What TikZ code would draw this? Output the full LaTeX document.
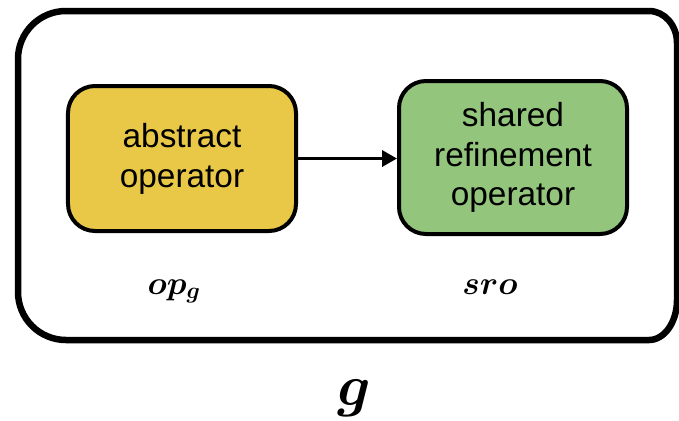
\RequirePackage{fix-cm}
\documentclass[tikz,border=0pt]{standalone}
\usepackage{fontspec}
\usepackage{amsmath,bm}
\newfontfamily\boxfont{Liberation Sans}
\usetikzlibrary{arrows.meta}
\definecolor{absyellow}{RGB}{233,200,72}
\definecolor{srogreen}{RGB}{147,197,125}
\tikzset{
  opbox/.style={draw=black, line width=4bp, rounded corners=27bp, align=center,
    font=\boxfont\fontsize{33.5}{40}\selectfont, inner sep=0pt},
  lbl/.style={anchor=base, inner sep=0pt, font=\fontsize{33}{36}\selectfont},
  conn/.style={line width=3.5bp, -{Triangle[length=15bp,width=16bp]}}
}
\begin{document}
\begin{tikzpicture}[x=1bp,y=-1bp]
\useasboundingbox (0,0) rectangle (679,420);
% outer group frame
\draw[line width=6.5bp]
  (66,11) -- (649,11)
  arc[start angle=-90,end angle=0,x radius=28,y radius=32]
  -- (677,300)
  arc[start angle=0,end angle=90,x radius=28,y radius=40]
  -- (66,340)
  arc[start angle=90,end angle=180,radius=48]
  -- (18,59)
  arc[start angle=180,end angle=270,radius=48] -- cycle;
\node[opbox, fill=absyellow, minimum width=228bp, minimum height=145bp] (abs) at (182,158.5) {abstract\\operator};
\node[opbox, fill=srogreen, minimum width=228bp, minimum height=153bp] (sro) at (513,157.5) {shared\\refinement\\operator};
\draw[conn] (abs.east) -- (abs.east -| sro.west);
\node[lbl] (opg) at (174,294) {$\boldsymbol{op}_{\boldsymbol{g}}$};
\node[lbl] (srol) at (490,294) {$\boldsymbol{sro}$};
\node[lbl, font=\fontsize{58}{60}\selectfont] (g) at (354,405) {$\boldsymbol{g}$};
\end{tikzpicture}
\end{document}
